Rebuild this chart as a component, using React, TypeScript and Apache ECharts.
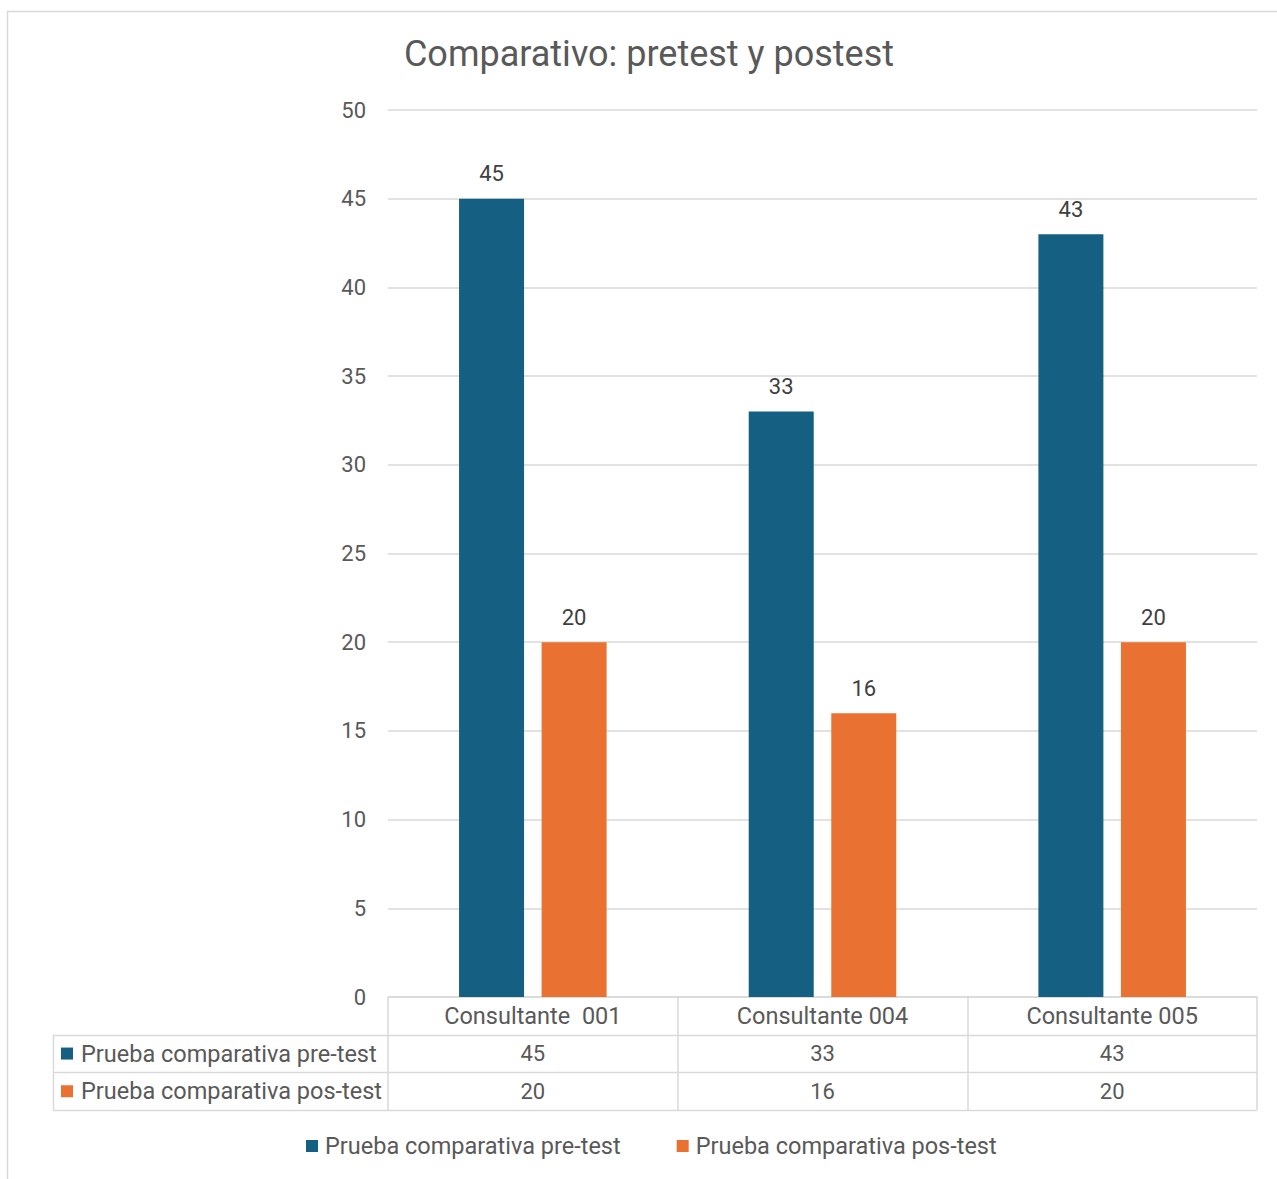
import React, { useEffect, useRef } from "react";
import * as echarts from "echarts";

const title = "Comparativo: pretest y postest";
const categories = ["Consultante  001", "Consultante 004", "Consultante 005"];
const seriesNames = ["Prueba comparativa pre-test", "Prueba comparativa pos-test"];
const preTest = [45, 33, 43];
const posTest = [20, 16, 20];
const yTicks = { min: 0, max: 50, interval: 5 };

const COLORS = ["#156082", "#E97132"];
const FONT = "Roboto, 'Liberation Sans', sans-serif";
const W = 1277;
const H = 1179;
const GRID = { left: 388, right: 20, top: 110, bottom: 182 };
const ROW_H = 37.7;
const TABLE_LEFT = 53;
const LINE = "#d9d9d9";
const TXT = "#595959";
const TEXT_SIZE = 23.5;

export default function App() {
  const ref = useRef<HTMLDivElement>(null);
  useEffect(() => {
    if (!ref.current) return;
    const chart = echarts.init(ref.current, undefined, { renderer: "svg" });
    const axisY = H - GRID.bottom;
    const plotRight = W - GRID.right;
    const rows = [preTest, posTest];

    const graphic: any[] = [
      {
        type: "rect",
        shape: { x: 7.5, y: 11.5, width: W + 20, height: H + 20 },
        style: { fill: "none", stroke: LINE, lineWidth: 1.5 },
        silent: true,
      },
    ];
    for (let r = 1; r <= 3; r++) {
      const y = Math.round(axisY + ROW_H * r) + 0.5;
      graphic.push({
        type: "line",
        shape: { x1: TABLE_LEFT, y1: y, x2: plotRight, y2: y },
        style: { stroke: LINE, lineWidth: 1.5 },
        silent: true,
      });
    }
    graphic.push({
      type: "line",
      shape: {
        x1: TABLE_LEFT + 0.5,
        y1: axisY + ROW_H,
        x2: TABLE_LEFT + 0.5,
        y2: axisY + ROW_H * 3,
      },
      style: { stroke: LINE, lineWidth: 1.5 },
      silent: true,
    });
    seriesNames.forEach((name, i) => {
      const cy = axisY + ROW_H * (i + 1.5);
      graphic.push({
        type: "rect",
        shape: { x: TABLE_LEFT + 8, y: cy - 6, width: 12, height: 12 },
        style: { fill: COLORS[i] },
        silent: true,
      });
      graphic.push({
        type: "text",
        x: TABLE_LEFT + 28,
        y: cy,
        style: {
          text: name,
          fill: TXT,
          font: `${TEXT_SIZE}px ${FONT}`,
          verticalAlign: "middle",
          align: "left",
        },
        silent: true,
      });
    });

    const valueAxes = rows.map((vals, i) => ({
      type: "category",
      data: categories,
      position: "bottom",
      offset: ROW_H * (i + 1),
      axisLine: { show: false },
      axisTick: { show: false },
      axisLabel: {
        interval: 0,
        margin: 8,
        fontSize: 22,
        fontFamily: FONT,
        color: TXT,
        formatter: (_v: string, idx: number) => String(vals[idx]),
      },
    }));

    chart.setOption({
      animation: false,
      backgroundColor: "#ffffff",
      title: {
        text: title,
        left: 644,
        textAlign: "center",
        top: 31,
        textStyle: { fontSize: 36, fontWeight: "normal", color: TXT, fontFamily: FONT },
      },
      grid: { ...GRID, containLabel: false },
      legend: {
        left: 301,
        top: 1129,
        itemWidth: 12,
        itemHeight: 12,
        itemGap: 56,
        icon: "rect",
        textStyle: { fontSize: TEXT_SIZE, color: TXT, fontFamily: FONT, padding: [0, 0, 0, 2] },
        data: seriesNames,
      },
      xAxis: [
        {
          type: "category",
          data: categories,
          axisLine: { show: true, lineStyle: { color: LINE, width: 1.5 } },
          axisTick: {
            show: true,
            interval: 0,
            length: ROW_H * 3,
            lineStyle: { color: LINE, width: 1.5 },
          },
          axisLabel: { interval: 0, margin: 7, fontSize: TEXT_SIZE, fontFamily: FONT, color: TXT },
        },
        ...valueAxes,
      ],
      yAxis: {
        type: "value",
        min: yTicks.min,
        max: yTicks.max,
        interval: yTicks.interval,
        axisLine: { show: false },
        axisTick: { show: false },
        axisLabel: { margin: 22, fontSize: 22, fontFamily: FONT, color: TXT },
        splitLine: { lineStyle: { color: LINE, width: 1.5 } },
      },
      series: [preTest, posTest].map((data, i) => ({
        name: seriesNames[i],
        type: "bar",
        data,
        barWidth: 65,
        barGap: "27%",
        itemStyle: { color: COLORS[i] },
        label: {
          show: true,
          position: "top",
          distance: 14,
          fontSize: 22,
          fontFamily: FONT,
          color: "#404040",
        },
      })),
      graphic,
    });
    return () => chart.dispose();
  }, []);
  return (
    <div
      ref={ref}
      style={{ position: "absolute", left: 0, top: 0, width: W, height: H }}
    />
  );
}
